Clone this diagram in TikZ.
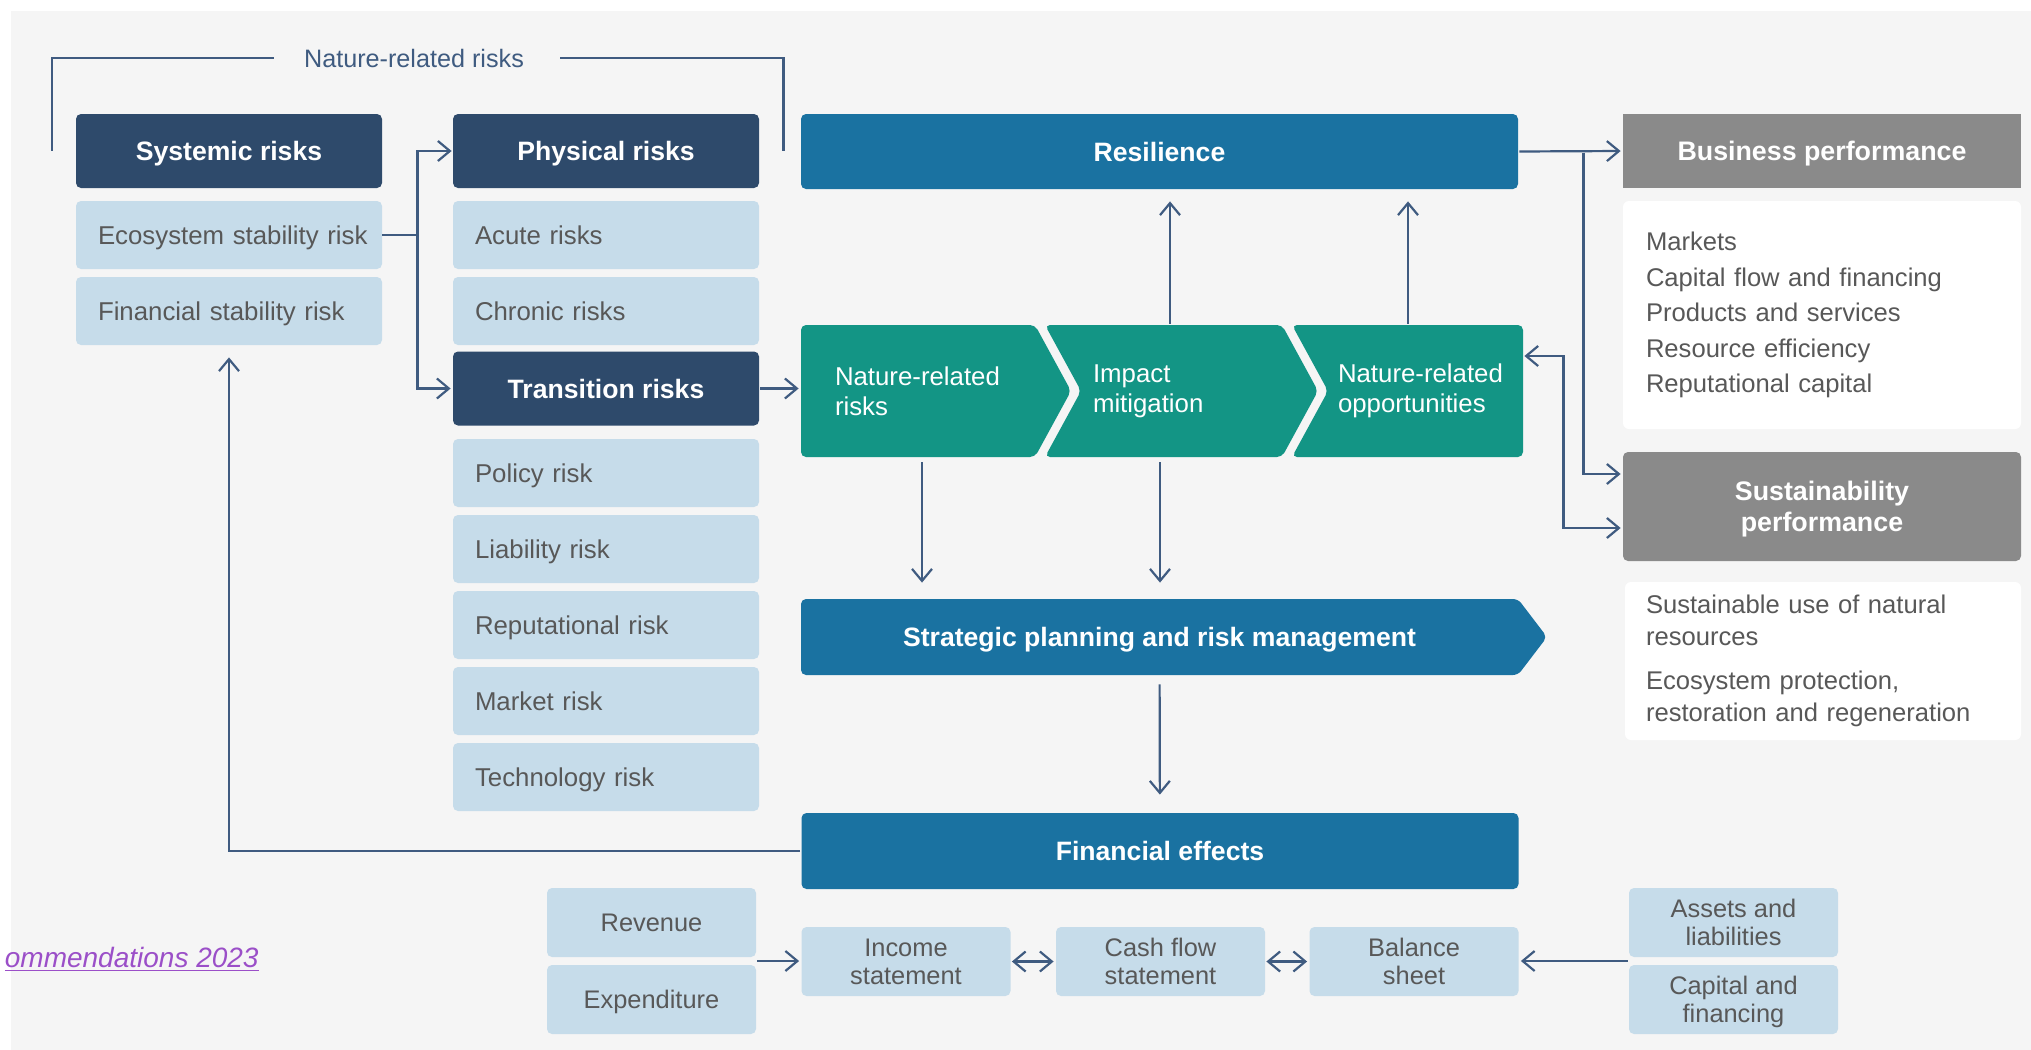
\documentclass[tikz,border=0pt]{standalone}
\usepackage{fontspec}
\setmainfont{Liberation Sans}
\usetikzlibrary{arrows.meta,calc}

\definecolor{panelgrey}{HTML}{F5F5F5}
\definecolor{navybox}{HTML}{2E4A6B}
\definecolor{paleblue}{HTML}{C6DCEA}
\definecolor{midblue}{HTML}{1A72A1}
\definecolor{chevteal}{HTML}{139585}
\definecolor{perfgrey}{HTML}{8A8A8A}
\definecolor{linecol}{HTML}{3F5B80}
\definecolor{boxtext}{HTML}{585858}
\definecolor{linkpurple}{HTML}{9B4FC8}

\newcommand{\regtxt}{\fontsize{12.9}{16}\selectfont}
\newcommand{\boldtxt}{\fontsize{13.3}{16}\selectfont\bfseries}
\newcommand{\listtxt}{\fontsize{12.8}{17.8}\selectfont}
\newcommand{\pairtxt}{\fontsize{12.7}{14}\selectfont}
\newcommand{\chevtxt}{\fontsize{12.9}{15}\selectfont}
\newcommand{\perftxt}{\fontsize{13.4}{15.5}\selectfont\bfseries}
\newcommand{\linktxt}{\fontsize{14}{16}\selectfont\itshape}

\begin{document}
\begin{tikzpicture}[x=0.5pt,y=-0.5pt,
    >={Straight Barb[length=6pt,width=10pt]},
    darkbox/.style={fill=navybox,rounded corners=2.5pt,text=white,font=\boldtxt,
      minimum width=153pt,minimum height=37pt,inner sep=0pt,text depth=0pt},
    palebox/.style={fill=paleblue,rounded corners=2.5pt,text=boxtext,font=\regtxt,
      text width=131pt,inner xsep=11pt,inner ysep=0pt,minimum height=34pt,align=left,text depth=0pt},
    bluebox/.style={fill=midblue,rounded corners=2.5pt,text=white,font=\boldtxt,
      minimum width=358.5pt,minimum height=37.5pt,inner sep=0pt,text depth=0pt},
    perfbox/.style={fill=perfgrey,text=white,font=\perftxt,minimum width=199pt,
      inner sep=0pt,align=center,text depth=0pt},
    listbox/.style={fill=white,rounded corners=3pt,text=boxtext,align=left,
      inner xsep=11.5pt,inner ysep=0pt},
    finbox/.style={fill=paleblue,rounded corners=2.5pt,text=boxtext,font=\pairtxt,
      minimum width=104.5pt,minimum height=34.5pt,inner sep=0pt,align=center,text depth=0pt},
    chevron/.style={fill=chevteal,rounded corners=2.5pt},
    chevlabel/.style={text=white,font=\chevtxt,align=left,inner sep=0pt,minimum height=66pt},
    link/.style={draw=linecol,line width=1.1pt},
    arr/.style={link,shorten >=1pt,shorten <=0.5pt}]

  \useasboundingbox (0,0) rectangle (2031,1050);
  \fill[panelgrey] (11,11) rectangle (2031,1050);

  \fill[chevron] (801,325) -- (1035,325) -- (1071,391) -- (1035,457) -- (801,457) -- cycle;
  \fill[chevron] (1045,325) -- (1282,325) -- (1318,391) -- (1282,457) -- (1045,457) -- (1081,391) -- cycle;
  \fill[chevron] (1292,325) -- (1523,325) -- (1523,457) -- (1292,457) -- (1328,391) -- cycle;
  \fill[midblue,rounded corners=2.5pt] (801,599) -- (1518,599) -- (1547,637) -- (1518,675) -- (801,675) -- cycle;

  \node[font={\fontsize{12.6}{16}\selectfont},text=linecol,inner xsep=15pt] (nrl) at (414,58) {Nature-related risks};

  \node[darkbox] (sys) at (229,151) {Systemic risks};
  \node[palebox] (eco) at (229,235) {\mbox{Ecosystem stability risk}};
  \node[palebox] (fin) at (229,311) {Financial stability risk};

  \node[darkbox] (phy) at (606,151) {Physical risks};
  \node[palebox] (acu) at (606,235) {Acute risks};
  \node[palebox] (chr) at (606,311) {Chronic risks};
  \node[darkbox] (tra) at (606,388.5) {Transition risks};
  \foreach \name/\txt [count=\i] in {pol/Policy risk,lia/Liability risk,rep/Reputational risk,mkt/Market risk,tec/Technology risk}
    \node[palebox] (\name) at (606,397+76*\i) {\txt};

  \node[bluebox] (res) at (1159.5,151.5) {Resilience};
  \node[chevlabel,text width=100pt] (ch1) at (935,391) {Nature-related\\risks};
  \node[chevlabel,text width=94.5pt] (ch2) at (1187.5,391) {Impact\\mitigation};
  \node[chevlabel,text width=92.5pt] (ch3) at (1430.5,391) {Nature-related\\opportunities};
  \node[text=white,font=\boldtxt,minimum width=358.5pt,minimum height=38pt,inner sep=0pt,text depth=0pt] (spr) at (1159.5,637) {Strategic planning and risk management};
  \node[bluebox,minimum height=38pt] (fe) at (1160,851) {Financial effects};

  \node[perfbox,minimum height=37pt] (bus) at (1822,151) {Business performance};
  \node[listbox,font=\listtxt,text width=176pt,minimum height=114pt] (lst1) at (1822,315)
    {Markets\\Capital flow and financing\\Products and services\\Resource efficiency\\Reputational capital};
  \node[perfbox,rounded corners=2.5pt,minimum height=54.5pt] (sus) at (1822,506.5) {Sustainability\\performance};
  \node[listbox,font={\fontsize{12.8}{16}\selectfont},inner xsep=10.5pt,text width=177pt,minimum height=79pt] (lst2) at (1823,661)
    {Sustainable use of natural\\resources\\[6pt]Ecosystem protection,\\restoration and regeneration};

  \node[finbox] (rev) at (651.5,922.5) {Revenue};
  \node[finbox] (exp) at (651.5,999.5) {Expenditure};
  \node[finbox] (inc) at (906,961.5) {Income\\statement};
  \node[finbox] (cas) at (1160.5,961.5) {Cash flow\\statement};
  \node[finbox] (bal) at (1414,961.5) {Balance\\sheet};
  \node[finbox] (ast) at (1733.5,922.5) {Assets and\\liabilities};
  \node[finbox] (cap) at (1733.5,999.5) {Capital and\\financing};

  \node[anchor=base east,font=\linktxt,text=linkpurple,inner sep=0pt] (lnk) at (259,967) {\underline{ommendations 2023}};

  \draw[link] (nrl.west) -| ([xshift=-12pt]sys.west);
  \draw[link] ([xshift=3pt]nrl.east) -| ([xshift=12pt]phy.east);

  \coordinate (efork) at ($(eco.east)+(35,0)$);
  \draw[link] (eco.east) -- (efork);
  \draw[arr,<->] (phy.west) -| (efork) |- (tra.west);
  \draw[arr,->] (tra.east) -- (tra.east -| res.west);

  \coordinate (up2) at ($(ch2.north)+(-17.5,0)$);
  \coordinate (up3) at ($(ch3.north)+(-22.5,0)$);
  \coordinate (dn1) at ($(ch1.south)+(-13,0)$);
  \coordinate (dn2) at ($(ch2.south)+(-27.5,0)$);
  \draw[arr,->,shorten >=6pt] (up2) -- (up2 |- res.south);
  \draw[arr,->,shorten >=6pt] (up3) -- (up3 |- res.south);
  \draw[arr,->,shorten <=2.5pt,shorten >=8pt] (dn1) -- (dn1 |- spr.north);
  \draw[arr,->,shorten <=2.5pt,shorten >=8pt] (dn2) -- (dn2 |- spr.north);
  \draw[arr,->,shorten <=4.5pt,shorten >=9pt] (spr) -- (fe);
  \draw[arr,->,shorten >=6pt] (fe.west) -| (fin.south);

  \draw[arr,->] (res.east) -- (bus.west);
  \coordinate (rfork) at ($(res.east)+(65,0)$);
  \draw[arr,->] (rfork) |- ([yshift=16.25pt]sus.west);
  \draw[arr,<->] ([yshift=17.5pt]ch3.east) -- ++(20pt,0) |- ([yshift=-10.75pt]sus.west);

  \coordinate (rexp) at ($(rev.south east)!0.5!(exp.north east)$);
  \draw[arr,->] (rexp) -- (rexp -| inc.west);
  \draw[arr,<->] (inc) -- (cas);
  \draw[arr,<->] (cas) -- (bal);
  \coordinate (acap) at ($(ast.south west)!0.5!(cap.north west)$);
  \draw[arr,->] (acap) -- (acap -| bal.east);
\end{tikzpicture}
\end{document}
